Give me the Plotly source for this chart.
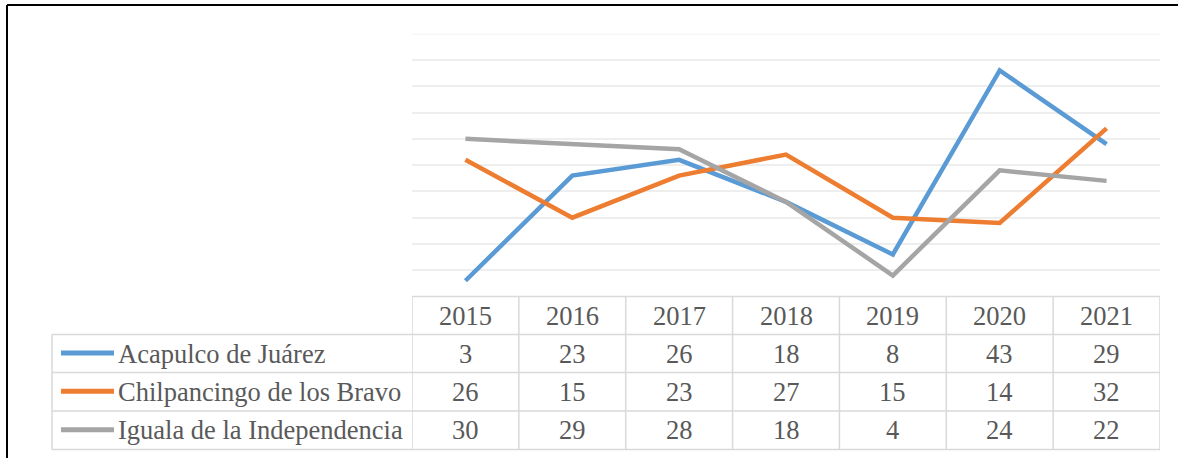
import plotly.graph_objects as go

years = ["2015", "2016", "2017", "2018", "2019", "2020", "2021"]
series_names = ["Acapulco de Juárez", "Chilpancingo de los Bravo", "Iguala de la Independencia"]
acapulco = [3, 23, 26, 18, 8, 43, 29]
chilpancingo = [26, 15, 23, 27, 15, 14, 32]
iguala = [30, 29, 28, 18, 4, 24, 22]
series_values = [acapulco, chilpancingo, iguala]
colors = ["#5B9BD5", "#ED7D31", "#A5A5A5"]

W, H = 1178, 458
def px(x):
    return x / W
def py(y):
    return 1 - y / H

FONT = "Liberation Serif, Times New Roman, serif"
TXT = "#595959"
GRID = "#D9D9D9"
FS = 26.5

plot_left, plot_right = 412, 1160
plot_top, plot_bottom = 33.7, 296.5
rows = [296.5, 334.5, 372.5, 411, 449.5]
label_left = 52

fig = go.Figure()
for name, vals, c in zip(series_names, series_values, colors):
    fig.add_trace(go.Scatter(x=list(range(len(years))), y=vals, mode="lines", name=name,
                             line=dict(color=c, width=4.5), showlegend=False))

shapes = []
# top gridline (value 50)
shapes.append(dict(type="line", xref="paper", yref="y", x0=px(plot_left), x1=px(plot_right), y0=50, y1=50,
                   line=dict(color="#EEEEEE", width=1.5), layer="below"))
# outer border
shapes.append(dict(type="line", xref="paper", yref="paper", x0=px(7), x1=px(W + 5), y0=py(5), y1=py(5),
                   line=dict(color="black", width=2)))
shapes.append(dict(type="line", xref="paper", yref="paper", x0=px(7), x1=px(7), y0=py(5), y1=py(H + 5),
                   line=dict(color="black", width=2)))

# table horizontal lines
shapes.append(dict(type="line", xref="paper", yref="paper", x0=px(plot_left), x1=px(plot_right),
                   y0=py(rows[0]), y1=py(rows[0]), line=dict(color=GRID, width=1.5)))
for r in rows[1:]:
    shapes.append(dict(type="line", xref="paper", yref="paper", x0=px(label_left), x1=px(plot_right),
                       y0=py(r), y1=py(r), line=dict(color=GRID, width=1.5)))
# vertical lines
shapes.append(dict(type="line", xref="paper", yref="paper", x0=px(label_left), x1=px(label_left),
                   y0=py(rows[1]), y1=py(rows[-1]), line=dict(color=GRID, width=1.5)))
for i in range(len(years) + 1):
    shapes.append(dict(type="line", xref="x", yref="paper", x0=i - 0.5, x1=i - 0.5,
                       y0=py(rows[0]), y1=py(rows[-1]), line=dict(color=GRID, width=1.5)))

annotations = []
hdr_c = (rows[0] + rows[1]) / 2
for i, yr in enumerate(years):
    annotations.append(dict(x=i, xref="x", y=py(hdr_c), yref="paper", text=yr, showarrow=False,
                            xanchor="center", yanchor="middle", font=dict(family=FONT, size=FS, color=TXT)))
for k, (name, vals, c) in enumerate(zip(series_names, series_values, colors)):
    yc = (rows[k + 1] + rows[k + 2]) / 2
    shapes.append(dict(type="line", xref="paper", yref="paper", x0=px(61), x1=px(114),
                       y0=py(yc - 0.5), y1=py(yc - 0.5), line=dict(color=c, width=5)))
    annotations.append(dict(x=px(116), xref="paper", y=py(yc), yref="paper", text=name, showarrow=False,
                            xanchor="left", yanchor="middle", font=dict(family=FONT, size=FS, color=TXT)))
    for i, v in enumerate(vals):
        annotations.append(dict(x=i, xref="x", y=py(yc), yref="paper", text=str(v), showarrow=False,
                                xanchor="center", yanchor="middle", font=dict(family=FONT, size=FS, color=TXT)))

fig.update_layout(
    width=W, height=H, margin=dict(l=0, r=0, t=0, b=0),
    paper_bgcolor="white", plot_bgcolor="white",
    xaxis=dict(domain=[px(plot_left), px(plot_right)], range=[-0.5, 6.5],
               showgrid=False, showticklabels=False, zeroline=False, showline=False, ticks=""),
    yaxis=dict(domain=[py(plot_bottom), py(plot_top)], range=[0, 50], dtick=5,
               showgrid=True, gridcolor="#EEEEEE", gridwidth=1.5, showticklabels=False,
               zeroline=False, showline=False, ticks=""),
    shapes=shapes, annotations=annotations,
)
fig.write_html("out.html", config={"displayModeBar": False},
               post_script="document.body.style.margin='0px';document.body.style.overflow='hidden';")
